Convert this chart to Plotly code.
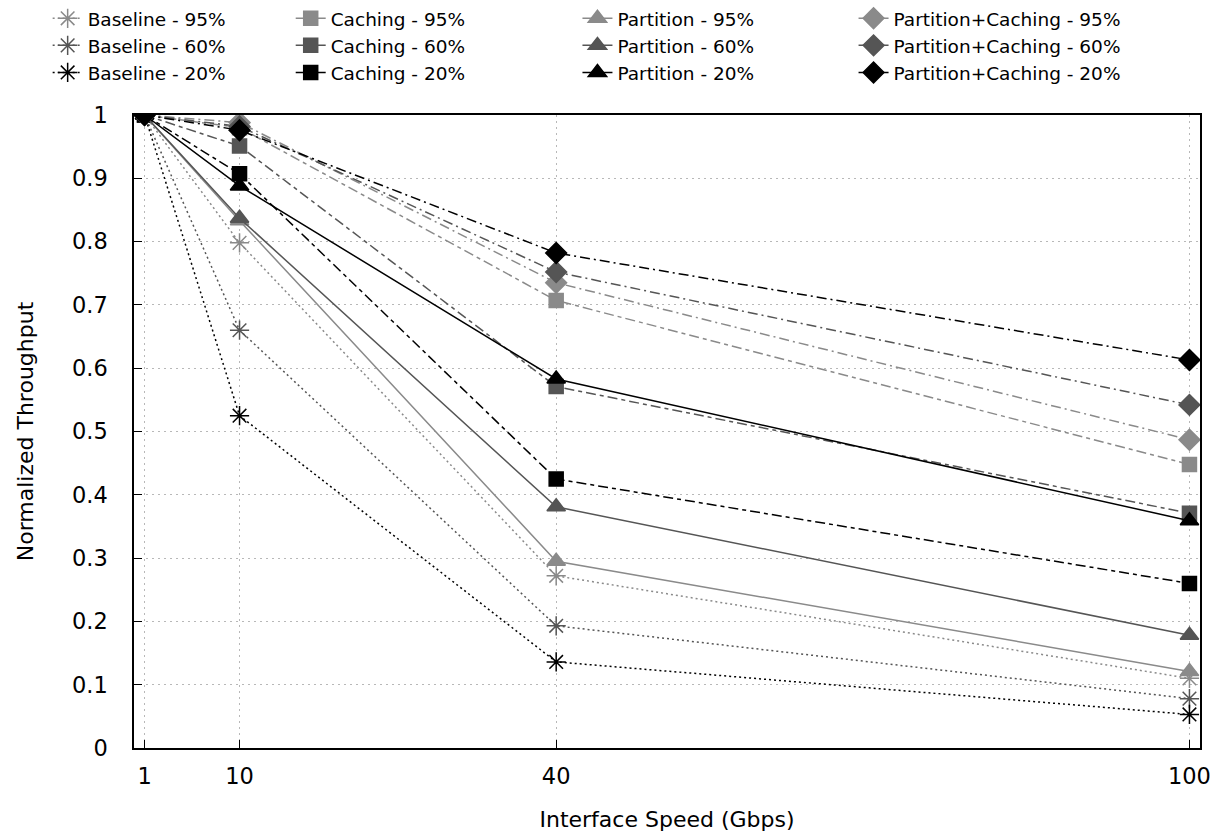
import plotly.graph_objects as go

speeds = [1, 10, 40, 100]
x_ticks = [1, 10, 40, 100]

baseline_95 = [1.0, 0.798, 0.272, 0.110]
baseline_60 = [1.0, 0.660, 0.193, 0.078]
baseline_20 = [1.0, 0.525, 0.136, 0.053]
caching_95 = [1.0, 0.980, 0.707, 0.448]
caching_60 = [1.0, 0.951, 0.571, 0.371]
caching_20 = [1.0, 0.907, 0.425, 0.260]
partition_95 = [1.0, 0.833, 0.295, 0.121]
partition_60 = [1.0, 0.837, 0.381, 0.178]
partition_20 = [1.0, 0.888, 0.583, 0.359]
pc_95 = [1.0, 0.988, 0.735, 0.487]
pc_60 = [1.0, 0.982, 0.752, 0.542]
pc_20 = [1.0, 0.976, 0.782, 0.613]

shades = {"95%": "#8a8a8a", "60%": "#555555", "20%": "#000000"}

groups = [
    ("Baseline", [("95%", baseline_95), ("60%", baseline_60), ("20%", baseline_20)],
     "asterisk-open", "2px,3px", 16, "legend"),
    ("Caching", [("95%", caching_95), ("60%", caching_60), ("20%", caching_20)],
     "square", "10px,4px,4px,4px", 14, "legend2"),
    ("Partition", [("95%", partition_95), ("60%", partition_60), ("20%", partition_20)],
     "triangle-up", "solid", 16, "legend3"),
    ("Partition+Caching", [("95%", pc_95), ("60%", pc_60), ("20%", pc_20)],
     "diamond", "10px,4px,2px,4px", 16, "legend4"),
]

fig = go.Figure()
for name, series, symbol, dash, msize, leg in groups:
    for pct, vals in series:
        col = shades[pct]
        fig.add_trace(go.Scatter(
            x=speeds, y=vals, mode="lines+markers",
            name=f"{name} - {pct}",
            line=dict(color=col, width=1.5, dash=dash),
            marker=dict(symbol=symbol, size=msize, color=col,
                        line=dict(color=col, width=1.5)),
            legend=leg,
        ))

font_family = "DejaVu Sans, Verdana, sans-serif"
leg_common = dict(orientation="v", yanchor="top", xanchor="left",
                  font=dict(size=18.5, family=font_family, color="#000000"),
                  bgcolor="rgba(0,0,0,0)", tracegroupgap=0, itemwidth=30)
leg_y = 1.182
fig.update_layout(
    width=1225, height=836,
    margin=dict(l=134, r=25, t=115, b=88, autoexpand=False),
    plot_bgcolor="white", paper_bgcolor="white",
    font=dict(family=font_family, size=22, color="#000000"),
    legend=dict(x=-0.081, y=leg_y, **leg_common),
    legend2=dict(x=0.147, y=leg_y, **leg_common),
    legend3=dict(x=0.416, y=leg_y, **leg_common),
    legend4=dict(x=0.675, y=leg_y, **leg_common),
    xaxis=dict(
        range=[0, 101], tickmode="array", tickvals=x_ticks,
        ticktext=[str(v) for v in x_ticks],
        ticks="inside", ticklen=8, tickcolor="#000000",
        showgrid=True, gridcolor="#b8b8b8", griddash="2px,4px", gridwidth=1,
        showline=True, linecolor="#000000", linewidth=1.5, mirror=True,
        zeroline=False, ticklabelstandoff=7,
        title=dict(text="Interface Speed (Gbps)", standoff=24,
                   font=dict(size=22)),
        tickfont=dict(size=22.5),
    ),
    yaxis=dict(
        range=[0, 1], tickmode="linear", tick0=0, dtick=0.1,
        ticks="inside", ticklen=8, tickcolor="#000000",
        showgrid=True, gridcolor="#b8b8b8", griddash="2px,4px", gridwidth=1,
        showline=True, linecolor="#000000", linewidth=1.5, mirror=True,
        zeroline=False, ticklabelstandoff=20,
        title=dict(text="Normalized Throughput", standoff=32,
                   font=dict(size=22)),
        tickfont=dict(size=22.5),
    ),
)

fig.write_html("out.html")
